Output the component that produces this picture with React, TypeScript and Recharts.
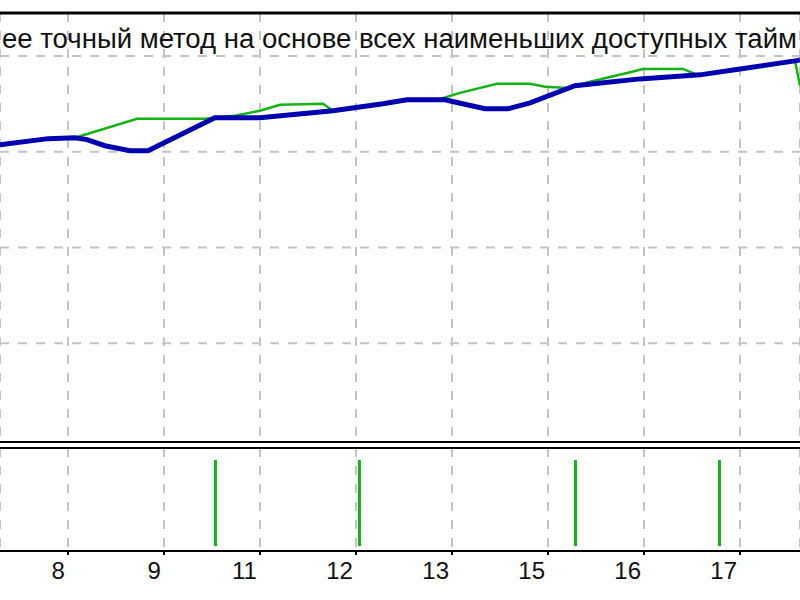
import {
  ComposedChart,
  Line,
  Bar,
  XAxis,
  YAxis,
  CartesianGrid,
  ReferenceLine,
  Customized,
} from 'recharts';

// time in "day slots" (0 = first grid day), values in account currency
const dayLabels = ['8', '9', '11', '12', '13', '15', '16', '17'];
const dayTicks = [0, 1, 2, 3, 4, 5, 6, 7];
const valueTicks = [10000, 10500, 11000, 11500];

const balanceT = [-0.708, -0.208, 0.073, 0.198, 0.385, 0.646, 0.833, 1.531, 2.0, 2.76, 3.281, 3.531, 3.927, 4.156, 4.344, 4.583, 4.813, 5.281, 5.958, 6.583, 7.0, 7.573, 7.625];
const balanceV = [11036, 11068, 11073, 11063, 11031, 11005, 11005, 11177, 11177, 11214, 11250, 11271, 11271, 11245, 11224, 11224, 11255, 11344, 11380, 11401, 11432, 11474, 11479];

const equityT = [-0.708, -0.208, 0.073, 0.719, 1.427, 1.531, 1.74, 2.0, 2.208, 2.656, 2.76, 3.281, 3.531, 3.854, 4.083, 4.469, 4.813, 4.969, 5.208, 5.281, 5.438, 5.823, 5.99, 6.406, 6.531, 6.583, 7.0, 7.573, 7.625];
const equityV = [11036, 11068, 11073, 11172, 11172, 11177, 11188, 11214, 11245, 11250, 11214, 11250, 11271, 11271, 11307, 11354, 11354, 11339, 11333, 11344, 11365, 11411, 11432, 11432, 11406, 11401, 11432, 11474, 11344];

const lotT = [1.531, 3.031, 5.281, 6.781];
const lotV = [1, 1, 1, 1];

const title = 'ее точный метод на основе всех наименьших доступных тайм';

const X_DOMAIN: [number, number] = [-0.708, 7.625];
const Y_DOMAIN: [number, number] = [9484, 11724];
const LOT_DOMAIN: [number, number] = [-0.058, 1.14];

const balance = balanceT.map((t, i) => ({ t, v: balanceV[i] }));
const equity = equityT.map((t, i) => ({ t, v: equityV[i] }));
const lots = lotT.map((t, i) => ({ t, lot: lotV[i] }));

const gridStyle = { stroke: '#c4c4c4', strokeWidth: 2, strokeDasharray: '9 9' };
const font = '"Liberation Sans", Arial, sans-serif';

function DayTick(props: any) {
  const { x, y, index } = props;
  return (
    <text x={x - 3} y={y + 22} textAnchor="end" fontFamily={font} fontSize={24} fill="#111">
      {dayLabels[index]}
    </text>
  );
}

function Title() {
  return (
    <text x={2} y={48} fontFamily={font} fontSize={27} fill="#111" textLength={795} lengthAdjust="spacingAndGlyphs">
      {title}
    </text>
  );
}

export default function App() {
  return (
    <div style={{ position: 'absolute', left: 0, top: 0, width: 800, height: 600, background: '#fff', overflow: 'hidden' }}>
      <ComposedChart width={800} height={445} margin={{ top: 13, right: 0, bottom: 3, left: 0 }}>
        <CartesianGrid {...gridStyle} />
        <XAxis type="number" dataKey="t" domain={X_DOMAIN} ticks={dayTicks} hide allowDataOverflow />
        <YAxis type="number" domain={Y_DOMAIN} ticks={valueTicks} hide allowDataOverflow />
        <Line data={equity} dataKey="v" stroke="#13b313" strokeWidth={2.5} dot={false} isAnimationActive={false} />
        <Line data={balance} dataKey="v" stroke="#0000b0" strokeWidth={5} dot={false} isAnimationActive={false} />
        <ReferenceLine y={Y_DOMAIN[1]} stroke="#000" strokeWidth={3} />
        <ReferenceLine y={Y_DOMAIN[0]} stroke="#000" strokeWidth={2} />
        <Customized component={Title} />
      </ComposedChart>
      <ComposedChart width={800} height={155} data={lots} margin={{ top: 3, right: 0, bottom: 0, left: 0 }}>
        <CartesianGrid {...gridStyle} horizontal={false} />
        <XAxis
          type="number"
          dataKey="t"
          domain={X_DOMAIN}
          ticks={dayTicks}
          allowDataOverflow
          height={49}
          tickSize={4}
          axisLine={{ stroke: '#000', strokeWidth: 2 }}
          tickLine={{ stroke: '#000', strokeWidth: 2 }}
          tick={<DayTick />}
        />
        <YAxis type="number" domain={LOT_DOMAIN} hide allowDataOverflow />
        <Bar dataKey="lot" fill="#13b313" barSize={3} isAnimationActive={false} />
        <ReferenceLine y={LOT_DOMAIN[1]} stroke="#000" strokeWidth={2} />
      </ComposedChart>
    </div>
  );
}
